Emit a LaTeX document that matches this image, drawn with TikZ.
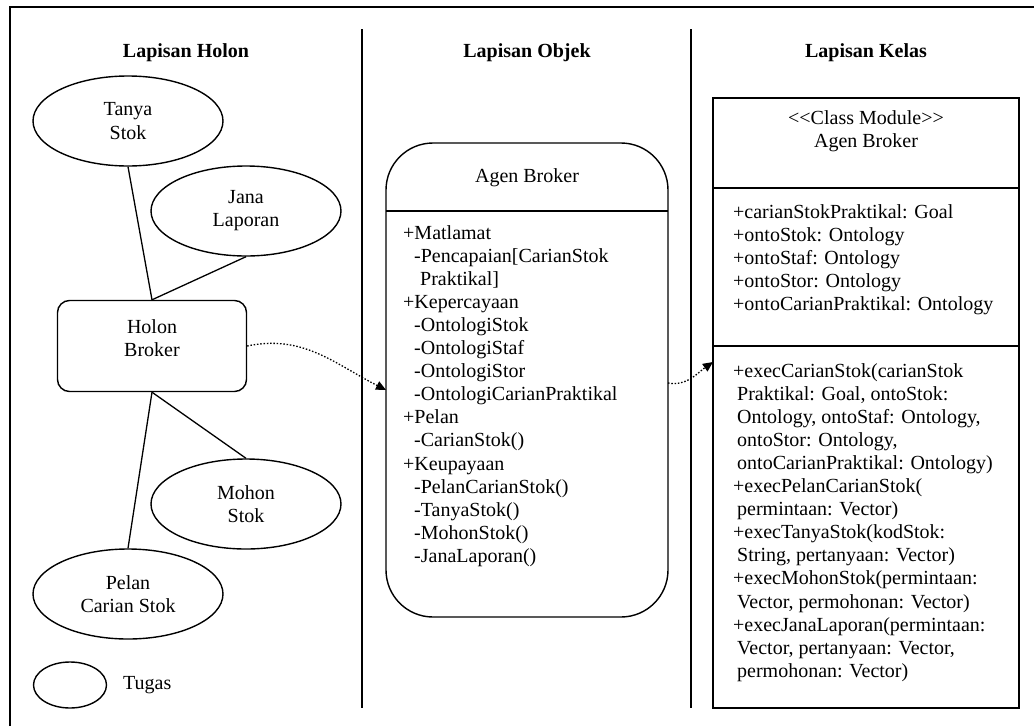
\documentclass[tikz,border=0pt]{standalone}
\usepackage{fontspec}
\setmainfont{Liberation Serif}
\usetikzlibrary{arrows.meta,shapes.geometric}
\begin{document}
\begin{tikzpicture}[x=1pt,y=-1pt,
  every node/.style={font=\fontsize{20}{23.1}\selectfont, inner sep=0pt},
  task/.style={draw, ellipse, line width=1.4pt, minimum width=190, minimum height=90, align=center},
  holonbox/.style={draw, rounded corners=12, line width=1.4pt, minimum width=189, minimum height=91},
  tie/.style={line width=1.3pt},
  flow/.style={line width=1.3pt, dash pattern=on 1.5pt off 1.8pt, -{Triangle[length=10pt,width=9pt]}},
  layer/.style={font=\fontsize{20}{23.1}\selectfont\bfseries},
  listing/.style={align=left, anchor=north west},
  panel/.style={draw, line width=1.4pt, outer sep=0pt},
  rule/.style={line width=1.8pt}
]
\useasboundingbox (0,0) rectangle (1034,726);

% outer frame and layer separators
\draw[rule] (10,726) -- (10,7) -- (1034,7);
\draw[rule] (362,29) -- (362,708);
\draw[rule] (691,29) -- (691,708);

% layer headings
\node[layer] (headholon) at (186,53) {Lapisan Holon};
\node[layer] (headobj) at (527,53) {Lapisan Objek};
\node[layer] (headcls) at (866,53) {Lapisan Kelas};

% holon layer
\node[task] (tanya) at (128,121) {Tanya\\Stok};
\node[task] (jana) at (246,211) {Jana\\Laporan};
\node[holonbox] (holon) at (152,346) {};
\node[align=center] (holontxt) at (152,338) {Holon\\Broker};
\node[task] (mohon) at (246,504) {Mohon\\Stok};
\node[task] (pelan) at (128,594) {Pelan\\Carian Stok};
\node[task, minimum width=73, minimum height=46] (legend) at (70,685) {};
\node[anchor=west] (legendtxt) at (123,685) {Tugas};

\draw[tie] (tanya.south) -- (holon.north);
\draw[tie] (jana.south) -- (holon.north);
\draw[tie] (holon.south) -- (mohon.north);
\draw[tie] (holon.south) -- (pelan.north);

% object layer
\node[panel, rounded corners=47, minimum width=282, minimum height=474] (obj) at (527,380) {};
\draw[line width=1.4pt] (obj.west |- 0,211) -- (obj.east |- 0,211);
\node (objname) at (527,178) {Agen Broker};
\node[listing] (objbody) at (403,225) {+Matlamat\\
\hspace*{11pt}-Pencapaian[CarianStok\\
\hspace*{17pt}Praktikal]\\
+Kepercayaan\\
\hspace*{11pt}-OntologiStok\\
\hspace*{11pt}-OntologiStaf\\
\hspace*{11pt}-OntologiStor\\
\hspace*{11pt}-OntologiCarianPraktikal\\
+Pelan\\
\hspace*{11pt}-CarianStok()\\
+Keupayaan\\
\hspace*{11pt}-PelanCarianStok()\\
\hspace*{11pt}-TanyaStok()\\
\hspace*{11pt}-MohonStok()\\
\hspace*{11pt}-JanaLaporan()};

% class layer
\node[panel, minimum width=306, minimum height=610] (cls) at (866,403) {};
\draw[line width=1.4pt] (cls.west |- 0,188) -- (cls.east |- 0,188);
\draw[line width=1.4pt] (cls.west |- 0,346) -- (cls.east |- 0,346);
\node[align=center] (clsname) at (866,131) {<{}<Class Module>{}>\\Agen Broker};
\node[listing] (attrs) at (733,204) {+carianStokPraktikal: Goal\\
+ontoStok: Ontology\\
+ontoStaf: Ontology\\
+ontoStor: Ontology\\
+ontoCarianPraktikal: Ontology};
\node[listing] (ops) at (733,363) {+execCarianStok(carianStok\\
\hspace*{4pt}Praktikal: Goal, ontoStok:\\
\hspace*{4pt}Ontology, ontoStaf: Ontology,\\
\hspace*{4pt}ontoStor: Ontology,\\
\hspace*{4pt}ontoCarianPraktikal: Ontology)\\
+execPelanCarianStok(\\
\hspace*{4pt}permintaan: Vector)\\
+execTanyaStok(kodStok:\\
\hspace*{4pt}String, pertanyaan: Vector)\\
+execMohonStok(permintaan:\\
\hspace*{4pt}Vector, permohonan: Vector)\\
+execJanaLaporan(permintaan:\\
\hspace*{4pt}Vector, pertanyaan: Vector,\\
\hspace*{4pt}permohonan: Vector)};

% realisation links between layers
\draw[flow] (holon.east) to[out=12, in=153] ([yshift=-10pt]obj.west);
\draw[flow] ([yshift=-3pt]obj.east) to[out=-10, in=215] ([yshift=41pt]cls.west);
\end{tikzpicture}
\end{document}
